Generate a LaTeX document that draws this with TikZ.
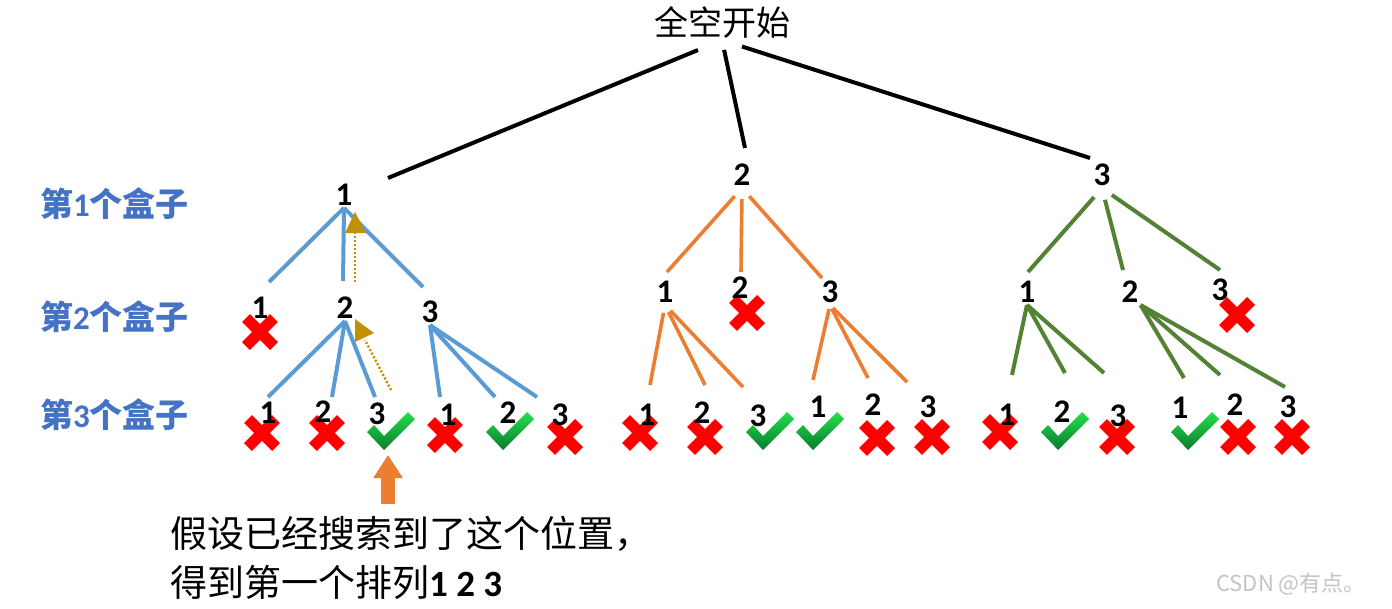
\documentclass[tikz,border=0pt]{standalone}
\usepackage{fontspec}
\setmainfont{Carlito}
\newfontfamily\cjk{Noto Sans CJK SC}
\usetikzlibrary{arrows.meta}

\definecolor{lineblue}{HTML}{5B9BD5}
\definecolor{lineorange}{HTML}{ED7D31}
\definecolor{linegreen}{HTML}{548235}
\definecolor{boxblue}{HTML}{4472C4}
\definecolor{trackgold}{HTML}{BF9000}
\definecolor{pointorange}{HTML}{ED7D31}
\definecolor{crossred}{HTML}{FF0000}
\definecolor{ticklight}{HTML}{22E04A}
\definecolor{tickdark}{HTML}{0B7A2E}
\definecolor{markgray}{HTML}{C4C4C4}

\newcommand{\boxlbl}[1]{{\cjk 第}#1{\cjk 个盒子}}

\tikzset{
  pics/crossmark/.style={code={\draw[crossred,line width=11pt] (-14,-14) -- (14,14) (-14,14) -- (14,-14);}},
  pics/tickmark/.style={code={\shade[top color=ticklight,bottom color=tickdark] (-24,0) -- (-17,-7) -- (-7,4) -- (17,-20) -- (24,-13) -- (-7,18) -- cycle;}}
}

\begin{document}
\begin{tikzpicture}[x=1pt,y=-1pt,
            every node/.style={inner sep=2pt},
            num/.style={font=\bfseries\fontsize{33pt}{38pt}\selectfont},
            level/.style={anchor=west,text=boxblue,font=\bfseries\fontsize{33pt}{40pt}\selectfont},
            note/.style={anchor=base west,font=\cjk\fontsize{37pt}{48pt}\selectfont},
            rootline/.style={draw=black,line width=4pt},
            blueline/.style={draw=lineblue,line width=4pt},
            orangeline/.style={draw=lineorange,line width=3.6pt},
            greenline/.style={draw=linegreen,line width=4pt},
            track/.style={draw=trackgold,line width=2.4pt,dash pattern=on 2pt off 2pt},
            pointer/.style={draw=pointorange,line width=14pt,-{Triangle[length=23pt,width=28pt]}}]
            \useasboundingbox (0,0) rectangle (1392,608);
            \fill[white] (0,0) rectangle (1392,608);

            % marks
            \pic at (260,332) {crossmark};
            \pic at (747,313) {crossmark};
            \pic at (1237,315) {crossmark};
            \pic at (262,433) {crossmark};
            \pic at (327,433) {crossmark};
            \pic at (391,432) {tickmark};
            \pic at (445,435) {crossmark};
            \pic at (510,432) {tickmark};
            \pic at (565,437) {crossmark};
            \pic at (640,433) {crossmark};
            \pic at (705,437) {crossmark};
            \pic at (770,432) {tickmark};
            \pic at (820,432) {tickmark};
            \pic at (877,438) {crossmark};
            \pic at (932,437) {crossmark};
            \pic at (1000,432) {crossmark};
            \pic at (1065,432) {tickmark};
            \pic at (1117,437) {crossmark};
            \pic at (1195,432) {tickmark};
            \pic at (1238,437) {crossmark};
            \pic at (1292,437) {crossmark};

            \node (root) at (722,22) [font=\cjk\fontsize{34pt}{40pt}\selectfont] {全空开始};
            \node[level] (box1) at (38,204) {\boxlbl{1}};
            \node[level] (box2) at (38,317) {\boxlbl{2}};
            \node[level] (box3) at (38,415) {\boxlbl{3}};

            \node[num] (n1) at (344,195) {1};
            \node[num] (n2) at (742,175) {2};
            \node[num] (n3) at (1102,175) {3};
            \node[num] (n11) at (260,308) {1};
            \node[num] (n12) at (345,308) {2};
            \node[num] (n13) at (430,312) {3};
            \node[num] (n21) at (665,292) {1};
            \node[num] (n22) at (740,288) {2};
            \node[num] (n23) at (830,292) {3};
            \node[num] (n31) at (1027,292) {1};
            \node[num] (n32) at (1130,292) {2};
            \node[num] (n33) at (1220,290) {3};
            \node[num] (n121) at (268,413) {1};
            \node[num] (n122) at (323,412) {2};
            \node[num] (n123) at (377,414) {3};
            \node[num] (n131) at (448,415) {1};
            \node[num] (n132) at (508,413) {2};
            \node[num] (n133) at (560,415) {3};
            \node[num] (n211) at (647,415) {1};
            \node[num] (n212) at (702,413) {2};
            \node[num] (n213) at (758,416) {3};
            \node[num] (n231) at (818,407) {1};
            \node[num] (n232) at (873,405) {2};
            \node[num] (n233) at (928,407) {3};
            \node[num] (n311) at (1007,415) {1};
            \node[num] (n312) at (1062,412) {2};
            \node[num] (n313) at (1118,416) {3};
            \node[num] (n321) at (1180,408) {1};
            \node[num] (n322) at (1235,405) {2};
            \node[num] (n323) at (1288,407) {3};

            % free ends of the tree lines
            \coordinate (t1) at (388,178);
            \coordinate (t2) at (745,148);
            \coordinate (t3) at (1090,158);
            \coordinate (t11) at (269,282);
            \coordinate (t12) at (343,281);
            \coordinate (t13) at (423,287);
            \coordinate (t121) at (268,397);
            \coordinate (t122) at (332,397);
            \coordinate (t123) at (375,397);
            \coordinate (t131) at (440,397);
            \coordinate (t132) at (495,397);
            \coordinate (t133) at (537,397);
            \coordinate (t21) at (667,272);
            \coordinate (t22) at (741,272);
            \coordinate (t23) at (822,278);
            \coordinate (t211) at (650,385);
            \coordinate (t212) at (705,385);
            \coordinate (t213) at (743,387);
            \coordinate (t231) at (813,380);
            \coordinate (t232) at (868,378);
            \coordinate (t233) at (907,382);
            \coordinate (t31) at (1028,272);
            \coordinate (t32) at (1123,270);
            \coordinate (t33) at (1220,270);
            \coordinate (t311) at (1012,375);
            \coordinate (t312) at (1065,373);
            \coordinate (t313) at (1104,373);
            \coordinate (t321) at (1184,378);
            \coordinate (t322) at (1220,375);
            \coordinate (t323) at (1285,387);

            \draw[rootline,shorten <=26pt] (root.south) -- (t1);
            \draw[rootline,shorten <=10pt] (root.south) -- (t2);
            \draw[rootline,shorten <=21pt] (root.south) -- (t3);

            \draw[blueline] (n1.south) -- (t11);
            \draw[blueline] (n1.south) -- (t12);
            \draw[blueline] (n1.south) -- (t13);
            \draw[blueline] (n12.south) -- (t121);
            \draw[blueline] (n12.south) -- (t122);
            \draw[blueline] (n12.south) -- (t123);
            \draw[blueline] (n13.south) -- (t131);
            \draw[blueline] (n13.south) -- (t132);
            \draw[blueline] (n13.south) -- (t133);

            \draw[orangeline,shorten <=11pt] (n2.south) -- (t21);
            \draw[orangeline,shorten <=11pt] (n2.south) -- (t22);
            \draw[orangeline,shorten <=11pt] (n2.south) -- (t23);
            \draw[orangeline,shorten <=8pt] (n21.south) -- (t211);
            \draw[orangeline,shorten <=8pt] (n21.south) -- (t212);
            \draw[orangeline,shorten <=8pt] (n21.south) -- (t213);
            \draw[orangeline,shorten <=4pt] (n23.south) -- (t231);
            \draw[orangeline,shorten <=4pt] (n23.south) -- (t232);
            \draw[orangeline,shorten <=4pt] (n23.south) -- (t233);

            \draw[greenline,shorten <=12pt] (n3.south) -- (t31);
            \draw[greenline,shorten <=12pt] (n3.south) -- (t32);
            \draw[greenline,shorten <=12pt] (n3.south) -- (t33);
            \draw[greenline] (n31.south) -- (t311);
            \draw[greenline] (n31.south) -- (t312);
            \draw[greenline] (n31.south) -- (t313);
            \draw[greenline] (n32.south east) -- (t321);
            \draw[greenline] (n32.south east) -- (t322);
            \draw[greenline] (n32.south east) -- (t323);

            % backtracking
            \coordinate (k1s) at (355,282);
            \coordinate (k1e) at (355,233);
            \coordinate (k2s) at (391,390);
            \coordinate (k2e) at (365,340);
            \draw[track] (k1s) -- (k1e);
            \draw[track] (k2s) -- (k2e);
            \fill[trackgold] (345,233) -- (366,233) -- (355,212) -- cycle;
            \fill[trackgold] (355,319) -- (355,342) -- (374,333) -- cycle;

            \coordinate (p1) at (388,504);
            \coordinate (p2) at (388,455);
            \draw[pointer] (p1) -- (p2);

            \node[note] (note1) at (168,547) {假设已经搜索到了这个位置，};
            \node[note] (note2) at (168,596) {得到第一个排列{\rmfamily\bfseries 1 2 3}};
            \node (mark) at (1291,584) [text=markgray,font=\cjk\fontsize{22pt}{24pt}\selectfont] {CSDN @有点。};
          \end{tikzpicture}
\end{document}
